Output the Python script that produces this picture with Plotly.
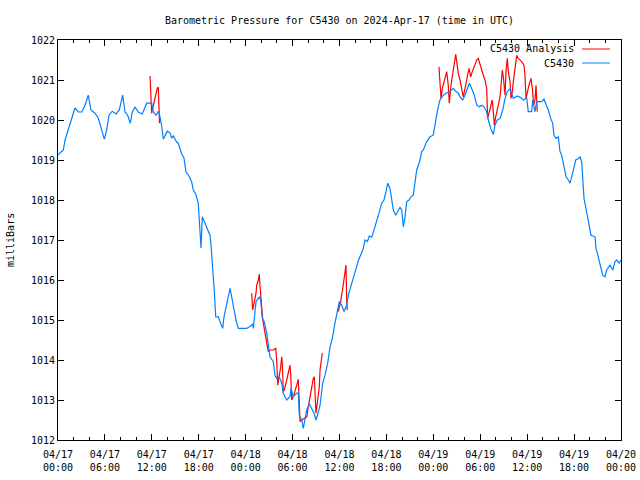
import pandas as pd
import plotly.graph_objects as go

START = "2024-04-17 00:00"

# C5430 observations: hours since 04/17 00:00 UTC, pressure (mb)
obs_hours = [0.0, 0.68, 0.90, 1.32, 1.75, 2.17, 2.60, 3.03, 3.45, 3.87, 4.22, 4.73, 5.15, 5.59, 5.92,
             6.23, 6.52, 6.94, 7.42, 7.84, 8.27, 8.57, 8.91, 9.25, 9.50, 9.85, 10.27, 10.78, 11.34, 11.98,
             12.19, 12.53, 12.83, 13.04, 13.26, 13.47, 13.98, 14.32, 14.54, 14.75, 15.18, 15.38, 15.60,
             15.82, 16.11, 16.37, 16.75, 17.10, 17.30, 17.61, 17.94, 18.03, 18.16, 18.29, 18.45, 18.80,
             19.09, 19.44, 19.57, 19.73, 19.86, 19.99, 20.17, 20.50, 20.72, 21.06, 21.23, 21.49, 21.78,
             22.00, 22.21, 22.51, 22.76, 23.06, 24.13, 24.64, 24.90, 24.98, 25.32, 25.74, 25.92, 26.13,
             26.38, 26.69, 26.89, 27.11, 27.53, 27.75, 27.97, 28.30, 28.61, 28.81, 29.25, 29.67, 29.80,
             30.09, 30.53, 30.73, 30.86, 31.17, 31.37, 31.59, 31.81, 32.14, 32.44, 32.74, 32.99, 33.16,
             33.51, 33.85, 34.15, 34.49, 34.79, 35.08, 35.42, 35.72, 35.97, 36.28, 36.58, 36.92, 37.13,
             37.43, 37.76, 38.11, 38.40, 38.71, 39.04, 39.26, 39.56, 39.81, 40.12, 40.41, 40.76, 41.05,
             41.40, 41.69, 41.95, 42.16, 42.46, 42.68, 42.88, 43.19, 43.44, 43.74, 43.96, 44.16, 44.38,
             44.59, 44.89, 45.14, 45.44, 45.66, 45.87, 46.08, 46.30, 46.51, 46.72, 47.15, 47.57, 47.99,
             48.21, 48.43, 48.63, 48.85, 49.27, 49.71, 50.13, 50.55, 50.90, 51.19, 51.41, 51.75, 52.05,
             52.26, 52.60, 52.90, 53.24, 53.55, 53.88, 54.19, 54.48, 54.82, 55.03, 55.34, 55.67, 55.89,
             56.18, 56.53, 56.87, 57.17, 57.46, 57.81, 58.23, 58.74, 59.17, 59.51, 59.94, 60.14, 60.58,
             60.71, 61.00, 61.22, 61.86, 62.15, 62.50, 62.70, 63.01, 63.26, 63.43, 63.69, 63.98, 64.20,
             64.42, 64.62, 64.84, 64.97, 65.26, 65.48, 65.70, 65.90, 66.21, 66.54, 66.76, 66.97, 67.10,
             67.27, 67.52, 67.69, 67.91, 68.16, 68.68, 68.80, 68.97, 69.31, 69.66, 69.95, 70.17, 70.59,
             70.94, 71.23, 71.45, 71.78, 71.96]
obs_mb = [1019.13, 1019.25, 1019.5, 1019.75, 1020.05, 1020.3, 1020.2, 1020.2, 1020.37, 1020.62, 1020.25,
          1020.17, 1020.05, 1019.75, 1019.52, 1019.75, 1020.12, 1020.22, 1020.15, 1020.25, 1020.62, 1020.2,
          1020.12, 1019.92, 1020.2, 1020.32, 1020.2, 1020.15, 1020.42, 1020.42, 1020.2, 1020.12, 1020.22,
          1020.08, 1019.85, 1019.52, 1019.72, 1019.68, 1019.55, 1019.6, 1019.45, 1019.42, 1019.3, 1019.15,
          1019.05, 1018.7, 1018.6, 1018.45, 1018.25, 1018.15, 1017.92, 1017.6, 1017.2, 1016.8, 1017.58,
          1017.42, 1017.25, 1017.12, 1016.87, 1016.5, 1016.12, 1015.71, 1015.08, 1015.08, 1014.96, 1014.79,
          1015.08, 1015.33, 1015.58, 1015.79, 1015.58, 1015.21, 1015.0, 1014.79, 1014.79, 1014.85, 1014.9,
          1014.79, 1015.46, 1015.58, 1015.5, 1015.04, 1014.96, 1014.67, 1014.33, 1014.08, 1013.96, 1013.62,
          1013.54, 1013.58, 1013.42, 1013.17, 1013.0, 1013.08, 1013.29, 1013.08, 1013.17, 1013.17, 1012.62,
          1012.5, 1012.29, 1012.54, 1012.75, 1012.9, 1012.79, 1012.67, 1012.5, 1012.6, 1012.87, 1013.42,
          1013.62, 1013.92, 1014.33, 1014.54, 1014.92, 1015.25, 1015.46, 1015.37, 1015.21, 1015.37, 1015.62,
          1015.83, 1016.08, 1016.28, 1016.48, 1016.65, 1016.78, 1017.0, 1016.96, 1017.1, 1017.07, 1017.25,
          1017.46, 1017.67, 1017.92, 1018.0, 1018.21, 1018.42, 1018.29, 1018.0, 1017.75, 1017.62, 1017.71,
          1017.82, 1017.75, 1017.33, 1017.58, 1017.96, 1018.0, 1018.08, 1018.12, 1018.46, 1018.75, 1018.87,
          1019.0, 1019.21, 1019.25, 1019.46, 1019.58, 1019.62, 1019.83, 1020.12, 1020.33, 1020.5, 1020.62,
          1020.68, 1020.71, 1020.79, 1020.71, 1020.67, 1020.58, 1020.5, 1020.62, 1020.75, 1020.92, 1020.79,
          1020.62, 1020.37, 1020.33, 1020.37, 1020.33, 1020.21, 1020.0, 1019.79, 1019.64, 1019.87, 1020.0,
          1020.04, 1020.25, 1020.54, 1020.71, 1020.78, 1020.54, 1020.6, 1020.56, 1020.5, 1020.55, 1020.21,
          1020.21, 1020.5, 1020.21, 1020.46, 1020.46, 1020.52, 1020.35, 1020.25, 1020.04, 1019.92, 1019.62,
          1019.54, 1019.58, 1019.21, 1019.12, 1018.92, 1018.75, 1018.58, 1018.5, 1018.42, 1018.58, 1018.75,
          1019.0, 1019.04, 1019.08, 1018.96, 1018.5, 1018.04, 1017.79, 1017.58, 1017.33, 1017.12, 1017.08,
          1016.79, 1016.67, 1016.42, 1016.12, 1016.08, 1016.25, 1016.37, 1016.25, 1016.46, 1016.5, 1016.42,
          1016.5]

# C5430 Analysis segments (None = gap)
ana_hours = [11.77, 11.85, 11.98, 12.06, 12.28, 12.53, 12.70, 12.83, 12.92, 12.98, None,
             24.77, 24.90, 25.32, 25.41, 25.62, 25.74, 25.83, 25.96, 26.05, 26.17, 26.34, 26.56, 26.77,
             26.89, 27.11, 27.53, 27.84, 27.97, 28.10, 28.30, 28.48, 28.61, 28.69, 28.81, 28.94, 29.25,
             29.45, 29.67, 29.76, 29.89, 30.09, 30.31, 30.53, 30.73, 30.86, 30.95, 31.17, 31.59, 31.81,
             32.01, 32.23, 32.44, 32.65, 32.78, 32.87, 32.99, 33.16, 33.29, 33.42, 33.51, 33.63, 33.80, None,
             35.85, 36.15, 36.41, 36.58, 36.70, 36.83, 36.92, 37.00, None,
             48.72, 48.85, 48.98, 49.15, 49.27, 49.49, 49.71, 49.91, 50.04, 50.26, 50.42, 50.64, 50.86,
             51.06, 51.19, 51.41, 51.63, 51.83, 51.96, 52.14, 52.34, 52.56, 52.78, 52.98, 53.24, 53.55,
             53.75, 53.97, 54.19, 54.39, 54.61, 54.82, 54.95, 55.12, 55.34, 55.54, 55.67, 55.80, 55.98,
             56.18, 56.31, 56.53, 56.66, 56.82, 56.95, 57.08, 57.17, 57.29, 57.46, 57.59, 57.81, 57.94,
             58.10, 58.23, 58.45, 58.66, 58.87, 59.30, 59.59, 59.72, 59.85, 60.02, 60.23, 60.49, 60.66,
             60.84, 61.00, 61.13, 61.22, 61.29]
ana_mb = [1021.1, 1020.62, 1020.17, 1020.25, 1020.45, 1020.67, 1020.8, 1020.82, 1020.35, 1019.92, None,
          1015.67, 1015.25, 1015.67, 1015.87, 1016.0, 1016.15, 1015.87, 1015.58, 1015.25, 1015.04, 1014.83,
          1014.58, 1014.37, 1014.21, 1014.25, 1014.25, 1014.29, 1014.0, 1013.37, 1013.58, 1013.83, 1014.08,
          1013.9, 1013.21, 1013.25, 1013.5, 1013.67, 1013.87, 1013.62, 1013.0, 1013.08, 1013.21, 1013.37,
          1013.52, 1013.0, 1012.46, 1012.5, 1012.54, 1012.58, 1012.83, 1013.08, 1013.33, 1013.54, 1013.58,
          1013.17, 1012.67, 1012.92, 1013.17, 1013.33, 1013.75, 1013.92, 1014.17, None,
          1015.21, 1015.46, 1015.79, 1016.0, 1016.12, 1016.37, 1015.5, 1015.25, None,
          1021.33, 1020.96, 1020.54, 1020.79, 1020.87, 1021.04, 1021.21, 1020.87, 1020.42, 1020.87, 1021.08,
          1021.42, 1021.64, 1021.37, 1021.17, 1021.0, 1020.79, 1020.58, 1020.7, 1020.92, 1021.08, 1021.29,
          1021.08, 1021.21, 1021.33, 1021.5, 1021.54, 1021.42, 1021.25, 1021.12, 1021.0, 1020.79, 1020.04,
          1020.17, 1020.33, 1020.5, 1020.21, 1019.87, 1020.08, 1020.25, 1020.42, 1020.58, 1020.87, 1021.25,
          1021.08, 1020.87, 1020.62, 1021.21, 1021.54, 1021.21, 1020.96, 1020.54, 1020.71, 1020.96, 1021.37,
          1021.61, 1021.54, 1021.46, 1021.37, 1021.12, 1020.54, 1020.71, 1020.87, 1021.04, 1020.79, 1020.37,
          1020.5, 1020.87, 1020.62, 1020.21]

series_names = ["C5430 Analysis", "C5430"]
series_colors = ["#ff0000", "#0080ff"]

start = pd.Timestamp(START)
def to_time(hours):
    return [None if h is None else start + pd.Timedelta(hours=h) for h in hours]

FONT = "DejaVu Sans Mono"

fig = go.Figure()
fig.add_trace(go.Scatter(x=to_time(ana_hours), y=ana_mb, mode="lines", name=series_names[0],
                         line=dict(color=series_colors[0], width=1.2), connectgaps=False))
fig.add_trace(go.Scatter(x=to_time(obs_hours), y=obs_mb, mode="lines", name=series_names[1],
                         line=dict(color=series_colors[1], width=1.2)))

fig.update_layout(
    width=640, height=480,
    margin=dict(l=58, r=19, t=40, b=40, autoexpand=False),
    paper_bgcolor="white", plot_bgcolor="white",
    showlegend=False,
    font=dict(family=FONT, size=10, color="black"),
    title=dict(text="Barometric Pressure for C5430 on 2024-Apr-17 (time in UTC)",
               x=(58 + 621) / 2 / 640, xanchor="center", y=1 - 20 / 480, yanchor="middle",
               font=dict(family=FONT, size=10, color="black")),
)
fig.update_xaxes(
    type="date", range=[start, start + pd.Timedelta(hours=72)],
    dtick=6 * 3600 * 1000, tick0=start, tickformat="%m/%d<br>%H:%M",
    ticks="inside", ticklen=6, tickcolor="black", tickwidth=1,
    minor=dict(dtick=2 * 3600 * 1000, tick0=start, ticks="inside", ticklen=3, tickcolor="black"),
    showline=True, linecolor="black", linewidth=1, mirror="ticks",
    showgrid=False, zeroline=False, ticklabelstandoff=5,
    tickfont=dict(family=FONT, size=10, color="black"),
)
fig.update_yaxes(
    range=[1012, 1022], dtick=1, tick0=1012,
    ticks="inside", ticklen=6, tickcolor="black", tickwidth=1,
    showline=True, linecolor="black", linewidth=1, mirror="ticks",
    showgrid=False, zeroline=False,
    tickfont=dict(family=FONT, size=10, color="black"),
)

# y-axis label
fig.add_annotation(text="milliBars", xref="paper", yref="paper", x=(10 - 58) / 563, y=0.5,
                   textangle=-90, showarrow=False, xanchor="center", yanchor="middle",
                   font=dict(family=FONT, size=10, color="black"))

# gnuplot-style legend (text left, sample right)
for i, (nm, col) in enumerate(zip(series_names, series_colors)):
    ypx = 49 + 14 * i
    yp = (440 - ypx) / 400
    fig.add_annotation(text=nm, xref="paper", yref="paper", x=(576 - 58) / 563, y=yp,
                       showarrow=False, xanchor="right", yanchor="middle",
                       font=dict(family=FONT, size=10, color="black"))
    fig.add_shape(type="line", xref="paper", yref="paper",
                  x0=(582 - 58) / 563, x1=(610 - 58) / 563, y0=yp, y1=yp,
                  line=dict(color=col, width=1))

fig.write_html("out.html", config={"displayModeBar": False},
               post_script="document.body.style.margin='0';document.body.style.overflow='hidden';")
